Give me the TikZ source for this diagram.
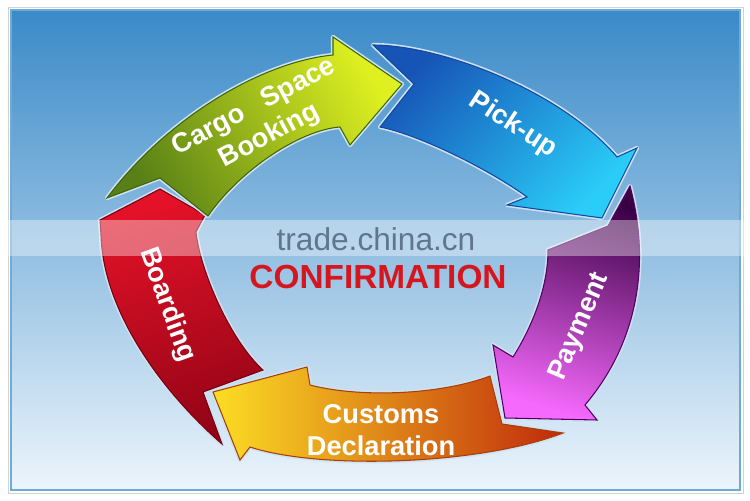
\documentclass[tikz,border=0pt]{standalone}
\usepackage{fontspec}
\setmainfont{Liberation Sans}
\definecolor{bgtop}{RGB}{58,138,200}
\definecolor{bgbot}{RGB}{236,245,252}
\definecolor{framec}{RGB}{110,170,215}
\definecolor{gdark}{RGB}{88,128,22}
\definecolor{glight}{RGB}{222,240,32}
\definecolor{gline}{RGB}{62,100,12}
\definecolor{bdark}{RGB}{22,84,182}
\definecolor{blight}{RGB}{42,205,248}
\definecolor{bline}{RGB}{20,72,160}
\definecolor{pdark}{RGB}{58,0,68}
\definecolor{plight}{RGB}{245,105,252}
\definecolor{pline}{RGB}{80,0,100}
\definecolor{odark}{RGB}{192,42,12}
\definecolor{omid}{RGB}{246,120,20}
\definecolor{olight}{RGB}{252,222,36}
\definecolor{oline}{RGB}{170,62,10}
\definecolor{rlight}{RGB}{228,18,40}
\definecolor{rdark}{RGB}{148,4,22}
\definecolor{rline}{RGB}{120,0,16}
\definecolor{confred}{RGB}{214,22,30}
\definecolor{wmark}{RGB}{96,118,140}
\tikzset{
  flow/.style={draw=#1, line width=0.6pt,
               preaction={draw=white!75!bgtop, line width=2.4pt, line join=round}},
  lbl/.style={text=white, font=\fontsize{15.5}{18.5}\selectfont\bfseries,
              align=center, inner sep=0pt},
}

\begin{document}
\begin{tikzpicture}[x=0.02cm, y=-0.02cm]
    \useasboundingbox (0,0) rectangle (750,500);
    \fill[white] (0,0) rectangle (750,500);
    \shade[top color=bgtop, bottom color=bgbot] (11,10) rectangle (740,490);
    \draw[gray!35, line width=0.5pt] (8,7) rectangle (743,493);
    \draw[framec, line width=1pt] (11,10) rectangle (740,490);

    \path[flow=oline, top color=olight, middle color=omid, bottom color=odark, shading angle=90]
      (563,433) .. controls (480,465) and (320,470) .. (250,447)
      -- (240,460) -- (213,392) -- (307,367) -- (310,385)
      .. controls (360,398) and (440,395) .. (490,376)
      -- (502,424) -- cycle;
    \path[flow=rline, top color=rlight, bottom color=rdark, shading angle=17]
      (222,444) .. controls (160,390) and (103,310) .. (101,235)
      -- (100,220) -- (160,189) -- (205,215) -- (196,232)
      .. controls (200,270) and (230,340) .. (263,370)
      -- (203,392) -- cycle;
    \path[flow=gline, top color=gdark, bottom color=glight, shading angle=120]
      (107,198) .. controls (165,120) and (260,62) .. (333,55)
      -- (333,37) -- (402,84) -- (350,145) -- (340,127)
      .. controls (300,130) and (240,170) .. (208,216)
      -- (160,178) -- cycle;
    \path[flow=bline, top color=bdark, bottom color=blight, shading angle=45]
      (373,45) .. controls (440,45) and (560,90) .. (617,157)
      -- (637,148) -- (602,218) -- (507,205) -- (527,197)
      .. controls (490,170) and (420,135) .. (380,127)
      -- (414,84) -- cycle;
    \path[flow=pline, top color=pdark, bottom color=plight, shading angle=-17]
      (630,186) .. controls (650,260) and (640,340) .. (585,405)
      -- (597,420) -- (505,418) -- (493,345) -- (513,357)
      .. controls (530,330) and (548,290) .. (548,250)
      -- (608,226) -- cycle;

    \node[lbl, rotate=28] (cargo) at (262,122) {Cargo\hspace{0.8em}Space\\Booking};
    \node[lbl, rotate=-33] (pick) at (513,125) {Pick-up};
    \node[lbl, rotate=67] (pay) at (580,327) {Payment};
    \node[lbl] (cust) at (381,430) {Customs\\Declaration};
    \node[lbl, rotate=-70] (board) at (167,305) {Boarding};

    \fill[white, opacity=0.38] (0,220) rectangle (750,256);
    \node[font=\fontsize{18}{20}\selectfont, text=wmark] (wm) at (376,239) {trade.china.cn};
    \node[font=\fontsize{19}{22}\selectfont\bfseries, text=confred] (conf) at (378,277) {CONFIRMATION};
\end{tikzpicture}
\end{document}
